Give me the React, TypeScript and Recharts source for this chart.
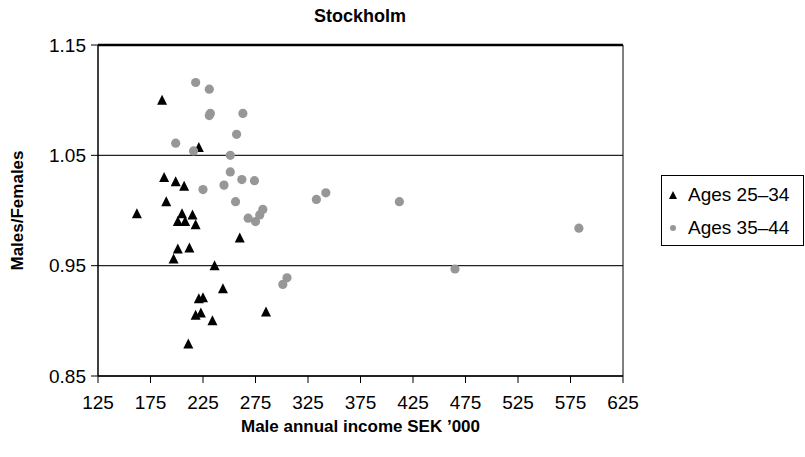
import React from 'react';
import { ScatterChart, Scatter, XAxis, YAxis, CartesianGrid, ReferenceLine, Legend, Label } from 'recharts';

const xTicks = [125, 175, 225, 275, 325, 375, 425, 475, 525, 575, 625];
const yTicks = [0.85, 0.95, 1.05, 1.15];

const ages2534X = [186, 221, 188, 199, 207, 190, 162, 205, 215, 201, 208, 218, 201, 212, 197, 221, 225, 218, 223, 211, 260, 236, 244, 234, 285];
const ages2534Y = [1.100, 1.057, 1.030, 1.026, 1.022, 1.008, 0.997, 0.997, 0.996, 0.990, 0.990, 0.987, 0.965, 0.966, 0.956, 0.920, 0.921, 0.905, 0.907, 0.879, 0.975, 0.950, 0.929, 0.900, 0.908];

const ages3544X = [218, 231, 232, 231, 263, 257, 199, 216, 251, 251, 262, 274, 245, 225, 256, 282, 279, 268, 275, 305, 301, 333, 342, 412, 583, 465];
const ages3544Y = [1.116, 1.110, 1.088, 1.086, 1.088, 1.069, 1.061, 1.054, 1.050, 1.035, 1.028, 1.027, 1.023, 1.019, 1.008, 1.001, 0.996, 0.993, 0.990, 0.939, 0.933, 1.010, 1.016, 1.008, 0.984, 0.947];

const seriesA = ages2534X.map((x, i) => ({ x, y: ages2534Y[i] }));
const seriesB = ages3544X.map((x, i) => ({ x, y: ages3544Y[i] }));

const FONT = '"Liberation Sans", Arial, Helvetica, sans-serif';
const GRAY = '#979797';

const Triangle = (props: any) => {
  const { cx, cy } = props;
  if (cx == null || cy == null) return null;
  const h = 9;
  const w = 10;
  return (
    <polygon
      points={`${cx},${cy - h / 2 - 1} ${cx - w / 2},${cy + h / 2} ${cx + w / 2},${cy + h / 2}`}
      fill="#000"
    />
  );
};

const Dot = (props: any) => {
  const { cx, cy } = props;
  if (cx == null || cy == null) return null;
  return <circle cx={cx} cy={cy} r={4.6} fill={GRAY} />;
};

const LegendContent = (props: any) => {
  const { payload } = props;
  return (
    <div
      style={{
        border: '1px solid #000',
        width: 141,
        height: 69,
        boxSizing: 'content-box',
        fontFamily: FONT,
        fontSize: 19,
        color: '#000',
        background: '#fff',
      }}
    >
      {(payload || []).map((p: any, i: number) => (
        <div key={i} style={{ display: 'flex', alignItems: 'center', height: 33, marginTop: i === 0 ? 2 : 0 }}>
          <svg width={26} height={20} style={{ display: 'block' }}>
            {i === 0 ? (
              <polygon points="11,6 7,14 15,14" fill="#000" />
            ) : (
              <circle cx={11} cy={10} r={3} fill={GRAY} />
            )}
          </svg>
          <span>{p.value}</span>
        </div>
      ))}
    </div>
  );
};

export default function App() {
  return (
    <div style={{ position: 'absolute', left: 0, top: 0, width: 805, height: 457, background: '#fff', fontFamily: FONT }}>
      <div
        style={{
          position: 'absolute',
          left: 98,
          width: 524,
          top: 6,
          textAlign: 'center',
          fontWeight: 'bold',
          fontSize: 18,
          fontFamily: FONT,
        }}
      >
        Stockholm
      </div>
      <ScatterChart width={805} height={457} margin={{ top: 45, right: 39, bottom: 21, left: 8 }}>
        <CartesianGrid horizontal vertical={false} stroke="#222" strokeWidth={1.2} />
        <XAxis
          type="number"
          dataKey="x"
          domain={[125, 625]}
          ticks={xTicks}
          interval={0}
          height={60}
          tickSize={7}
          tickMargin={13}
          stroke="#000"
          axisLine={{ stroke: '#000', strokeWidth: 1.5 }}
          tickLine={{ stroke: '#000' }}
          tick={{ fill: '#000', fontSize: 19, fontFamily: FONT }}
        >
          <Label
            value="Male annual income SEK ’000"
            position="insideBottom"
            offset={4}
            style={{ fontWeight: 'bold', fontSize: 17, fill: '#000', fontFamily: FONT }}
          />
        </XAxis>
        <YAxis
          type="number"
          dataKey="y"
          domain={[0.85, 1.15]}
          ticks={yTicks}
          interval={0}
          width={90}
          tickSize={7}
          tickMargin={5}
          tickFormatter={(v: number) => v.toFixed(2)}
          stroke="#000"
          axisLine={{ stroke: '#000', strokeWidth: 1.5 }}
          tickLine={{ stroke: '#000' }}
          tick={{ fill: '#000', fontSize: 19, fontFamily: FONT }}
        >
          <Label
            value="Males/Females"
            content={(p: any) => {
              const vb = p.viewBox || {};
              const cx = vb.x + 9;
              const cy = vb.y + vb.height / 2;
              return (
                <text
                  x={cx}
                  y={cy}
                  transform={`rotate(-90, ${cx}, ${cy})`}
                  textAnchor="middle"
                  dominantBaseline="central"
                  style={{ fontWeight: 'bold', fontSize: 17, fill: '#000', fontFamily: FONT }}
                >
                  Males/Females
                </text>
              );
            }}
          />
        </YAxis>
        <ReferenceLine y={1.15} stroke="#000" strokeWidth={2.5} />
        <ReferenceLine x={625} stroke="#000" strokeWidth={1} />
        <Legend
          layout="vertical"
          align="right"
          verticalAlign="middle"
          content={<LegendContent />}
          wrapperStyle={{ left: 661, top: 175, width: 143, height: 71 }}
        />
        <Scatter name="Ages 25–34" data={seriesA} fill="#000" shape={<Triangle />} isAnimationActive={false} />
        <Scatter name="Ages 35–44" data={seriesB} fill={GRAY} shape={<Dot />} isAnimationActive={false} />
      </ScatterChart>
    </div>
  );
}
